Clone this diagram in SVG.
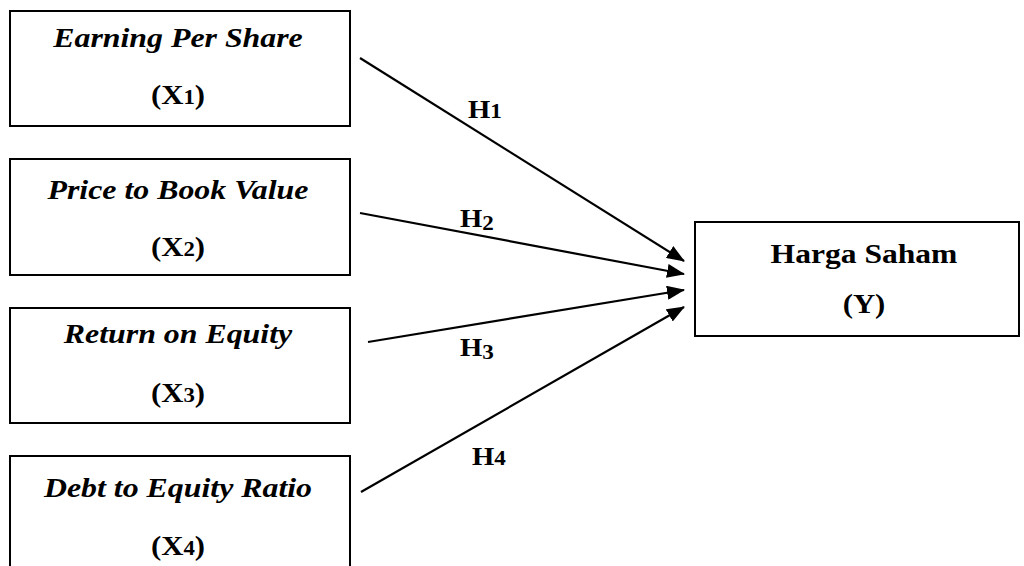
<svg xmlns="http://www.w3.org/2000/svg" width="1024" height="566" viewBox="0 0 1024 566">
  <style>
    .box { fill: #ffffff; stroke: #000000; stroke-width: 2; }
    .arrow { stroke: #000000; stroke-width: 2.2; fill: none; marker-end: url(#head); }
    .serif { font-family: 'Liberation Serif', 'Times New Roman', serif; }
  </style>
  <defs>
    <marker id="head" markerWidth="18" markerHeight="14" refX="17" refY="7" orient="auto" markerUnits="userSpaceOnUse">
      <path d="M0,0 L18,7 L0,14 Z" fill="#000000"/>
    </marker>
  </defs>
  <rect width="1024" height="566" fill="#ffffff"/>

  <!-- left-hand variables: italic name over bold symbol -->
  <g class="serif" font-weight="bold" font-size="27" text-anchor="middle" fill="#000000">
    <g id="eps">
      <rect class="box" x="10" y="11" width="340" height="115"/>
      <text font-style="italic" transform="translate(178,47) scale(1.18,1)">Earning Per Share</text>
      <text transform="translate(178,104) scale(1.14,1)">(X<tspan font-size="20">1</tspan>)</text>
    </g>

    <g id="pbv">
      <rect class="box" x="10" y="159" width="340" height="116"/>
      <text font-style="italic" transform="translate(178,199) scale(1.18,1)">Price to Book Value</text>
      <text transform="translate(178,256) scale(1.14,1)">(X<tspan font-size="20">2</tspan>)</text>
    </g>

    <g id="roe">
      <rect class="box" x="10" y="308" width="340" height="115"/>
      <text font-style="italic" transform="translate(178,343) scale(1.18,1)">Return on Equity</text>
      <text transform="translate(178,402) scale(1.14,1)">(X<tspan font-size="20">3</tspan>)</text>
    </g>

    <g id="der">
      <rect class="box" x="10" y="456" width="340" height="130"/>
      <text font-style="italic" transform="translate(178,497) scale(1.18,1)">Debt to Equity Ratio</text>
      <text transform="translate(178,555) scale(1.14,1)">(X<tspan font-size="20">4</tspan>)</text>
    </g>

    <!-- dependent variable -->
    <g id="harga-saham">
      <rect class="box" x="695" y="222" width="324" height="114"/>
      <text transform="translate(864,263) scale(1.17,1)">Harga Saham</text>
      <text transform="translate(864,313) scale(1.14,1)">(Y)</text>
    </g>
  </g>

  <g id="connectors">
    <line class="arrow" x1="360" y1="58" x2="684" y2="261"/>
    <line class="arrow" x1="360" y1="213" x2="684" y2="274"/>
    <line class="arrow" x1="368" y1="342" x2="684" y2="290"/>
    <line class="arrow" x1="361" y1="492" x2="684" y2="307"/>
  </g>

  <!-- hypothesis labels -->
  <g id="labels" class="serif" font-weight="bold" font-size="26" fill="#000000">
    <text transform="translate(468,118) scale(1.1,1)">H<tspan font-size="21">1</tspan></text>
    <text transform="translate(460,227) scale(1.1,1)">H<tspan font-size="21" dy="3">2</tspan></text>
    <text transform="translate(460,356) scale(1.1,1)">H<tspan font-size="21" dy="3">3</tspan></text>
    <text transform="translate(472,465) scale(1.1,1)">H<tspan font-size="21">4</tspan></text>
  </g>
</svg>
